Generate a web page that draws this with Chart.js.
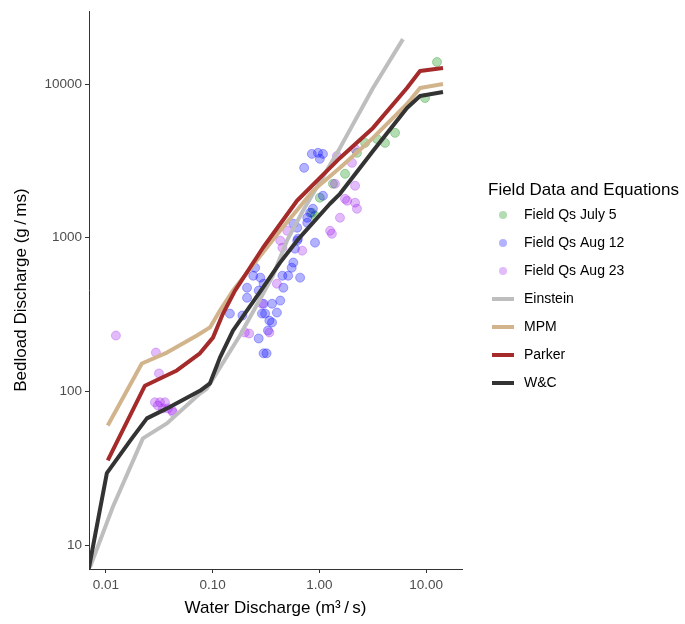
<!DOCTYPE html>
<html>
<head>
<meta charset="utf-8">
<script src="https://cdn.jsdelivr.net/npm/chart.js@4.4.0/dist/chart.umd.min.js"></script>
<style>
  html, body { margin: 0; padding: 0; background: #ffffff; }
  #wrap { width: 685px; height: 624px; position: relative; }
</style>
</head>
<body>
<div id="wrap"><canvas id="c" width="685" height="624"></canvas></div>
<script>
// ---- Data (water discharge Q in m3/s, bedload discharge Qs in g/ms) ----
const xTicks = [0.01, 0.1, 1, 10];
const xTickLabels = ["0.01", "0.10", "1.00", "10.00"];
const yTicks = [10, 100, 1000, 10000];
const yTickLabels = ["10", "100", "1000", "10000"];

const julyQ  = [12.65, 9.77, 5.12, 4.12, 3.47, 2.68, 2.25, 1.74, 1.34, 1.01, 0.85, 0.91];
const julyQs = [13900, 8110, 4810, 4140, 4390, 4140, 3565, 2605, 2245, 1820, 1453, 1390];

const aug12Q  = [0.85, 0.97, 1.08, 1.01, 0.72, 1.08, 0.91, 0.62, 0.57, 0.55, 0.45, 0.66, 0.51, 0.25, 0.24, 0.28, 0.30, 0.21, 0.27, 0.21, 0.46, 0.43, 0.36, 0.31, 0.36, 0.33, 0.27, 0.32, 0.40, 0.145, 0.19, 0.30, 0.57, 0.62, 0.77, 0.82, 0.63, 0.59, 0.87, 0.77, 0.29, 0.34, 0.30];
const aug12Qs = [3510, 3565, 3510, 3260, 2850, 1875, 929, 957, 689, 638, 566, 550, 566, 638, 566, 550, 502, 473, 453, 407, 473, 390, 372, 321, 281, 249, 221, 177, 326, 321, 312, 372, 1233, 1161, 1251, 1453, 986, 849, 1543, 1349, 321, 289, 177];

const aug23Q  = [0.0124, 0.0294, 0.0314, 0.0288, 0.0321, 0.0357, 0.0381, 0.0416, 0.0342, 0.0307, 0.0425, 1.46, 2.16, 1.82, 2.16, 2.25, 1.56, 1.26, 1.31, 0.69, 0.50, 0.43, 0.45, 0.40, 0.29, 0.20, 0.22, 0.34, 1.40, 2.16, 2.02, 1.74];
const aug23Qs = [231, 179, 131, 85, 85, 85, 77.6, 75.3, 77.6, 81, 73.1, 3405, 2180, 1740, 1690, 1543, 1349, 1109, 1061, 824, 1109, 957, 861, 502, 372, 242, 238, 242, 2245, 3780, 3070, 1790];

const einsteinQ  = [0.0071, 0.0116, 0.0222, 0.0373, 0.076, 0.0885, 0.18, 0.367, 0.497, 0.702, 1.56, 3.18, 6.07];
const einsteinQs = [7.2, 17.7, 49.5, 62, 97, 104.5, 231, 566, 957, 1497, 3840, 9420, 19590];

const mpmQ  = [0.0104, 0.0217, 0.0373, 0.0713, 0.0944, 0.117, 0.155, 0.296, 0.428, 0.871, 1.56, 3.18, 6.62, 8.77, 14.4];
const mpmQs = [60.1, 152, 179, 231, 261, 336, 453, 800, 1109, 2020, 2850, 4460, 7410, 9420, 10000];

const parkerQ  = [0.0104, 0.0232, 0.0462, 0.076, 0.1007, 0.125, 0.162, 0.296, 0.617, 1.256, 1.56, 3.18, 6.62, 8.77, 14.4];
const parkerQs = [35.6, 109, 137, 177, 224, 321, 453, 861, 1740, 2850, 3305, 5180, 9420, 12140, 12700];

const wcQ  = [0.0069, 0.0102, 0.0175, 0.0242, 0.0373, 0.076, 0.0944, 0.117, 0.155, 0.2095, 0.296, 0.428, 0.617, 1.256, 1.56, 3.18, 6.62, 8.77, 14.4];
const wcQs = [7.0, 29.4, 49.5, 66.8, 77.6, 101, 113, 166, 249, 336, 473, 689, 957, 1663, 1930, 3670, 6980, 8360, 8870];

const legendTitle = "Field Data and Equations";
const legendNames = ["Field Qs July 5", "Field Qs Aug 12", "Field Qs Aug 23", "Einstein", "MPM", "Parker", "W&C"];

const pairs = (xs, ys) => xs.map((x, i) => ({ x: x, y: ys[i] }));

const FONT = '"Liberation Sans", Arial, Helvetica, sans-serif';

function pointSet(label, xs, ys, rgb, order) {
  return {
    label: label, type: 'scatter', data: pairs(xs, ys), order: order,
    pointRadius: 4.5, pointHoverRadius: 4.5,
    backgroundColor: 'rgba(' + rgb + ',0.3)',
    borderColor: 'rgba(' + rgb + ',0.3)',
    borderWidth: 1, showLine: false
  };
}
function lineSet(label, xs, ys, color, order) {
  return {
    label: label, type: 'scatter', data: pairs(xs, ys), order: order,
    showLine: true, borderColor: color, backgroundColor: color,
    borderWidth: 4, pointRadius: 0, pointHoverRadius: 0,
    borderJoinStyle: 'round', borderCapStyle: 'butt', tension: 0, fill: false
  };
}

const datasets = [
  pointSet("Field Qs July 5", julyQ, julyQs, '0,139,0', 7),
  pointSet("Field Qs Aug 12", aug12Q, aug12Qs, '0,0,255', 6),
  pointSet("Field Qs Aug 23", aug23Q, aug23Qs, '160,32,240', 5),
  lineSet("Einstein", einsteinQ, einsteinQs, '#bebebe', 4),
  lineSet("MPM", mpmQ, mpmQs, '#d2b48c', 3),
  lineSet("Parker", parkerQ, parkerQs, '#a52a2a', 2),
  lineSet("W&C", wcQ, wcQs, '#333333', 1)
];

const ggLegend = {
  id: 'ggLegend',
  afterDraw(chart) {
    const ctx = chart.ctx;
    ctx.save();
    ctx.textAlign = 'left';
    ctx.textBaseline = 'middle';
    ctx.fillStyle = '#000000';
    ctx.font = '17px ' + FONT;
    ctx.fillText(legendTitle, 488, 190);
    ctx.font = '14px ' + FONT;
    legendNames.forEach((name, i) => {
      const ds = chart.data.datasets.find(d => d.label === name);
      const y = 215 + i * 28;
      if (ds.showLine) {
        ctx.strokeStyle = ds.borderColor;
        ctx.lineWidth = 4;
        ctx.beginPath();
        ctx.moveTo(492, y);
        ctx.lineTo(514, y);
        ctx.stroke();
      } else {
        ctx.fillStyle = ds.backgroundColor;
        ctx.beginPath();
        ctx.arc(503, y, 4, 0, Math.PI * 2);
        ctx.fill();
      }
      ctx.fillStyle = '#000000';
      ctx.fillText(name, 524, y);
    });
    ctx.restore();
  }
};

new Chart(document.getElementById('c'), {
  type: 'scatter',
  data: { datasets: datasets },
  plugins: [ggLegend],
  options: {
    responsive: false,
    animation: false,
    events: [],
    layout: { padding: { left: 0, right: 223, top: 10, bottom: 0 } },
    plugins: { legend: { display: false }, tooltip: { enabled: false }, title: { display: false } },
    scales: {
      x: {
        type: 'logarithmic',
        min: 0.00694, max: 21.7,
        afterFit: (s) => { s.height = 55; },
        afterBuildTicks: (s) => { s.ticks = xTicks.map(v => ({ value: v })); },
        ticks: {
          callback: (v, i) => xTickLabels[i],
          color: '#4d4d4d', font: { family: FONT, size: 13.5 }, padding: 4,
          maxRotation: 0, autoSkip: false
        },
        grid: { display: true, drawOnChartArea: false, drawTicks: true, tickLength: 4, color: '#333333', lineWidth: 1 },
        border: { display: true, color: '#333333', width: 1 },
        title: { display: true, text: 'Water Discharge (m\u00B3\u2009/\u2009s)', color: '#000000',
                 font: { family: FONT, size: 17 }, padding: { top: 0, bottom: 5 } }
      },
      y: {
        type: 'logarithmic',
        min: 7.0, max: 29800,
        afterFit: (s) => { s.width = 89; },
        afterBuildTicks: (s) => { s.ticks = yTicks.map(v => ({ value: v })); },
        ticks: {
          callback: (v, i) => yTickLabels[i],
          color: '#4d4d4d', font: { family: FONT, size: 13.5 }, padding: 3, autoSkip: false
        },
        grid: { display: true, drawOnChartArea: false, drawTicks: true, tickLength: 4, color: '#333333', lineWidth: 1 },
        border: { display: true, color: '#333333', width: 1 },
        title: { display: true, text: 'Bedload Discharge (g\u2009/\u2009ms)', color: '#000000',
                 font: { family: FONT, size: 17 }, padding: { top: 11, bottom: 0 } }
      }
    }
  }
});
</script>
</body>
</html>
